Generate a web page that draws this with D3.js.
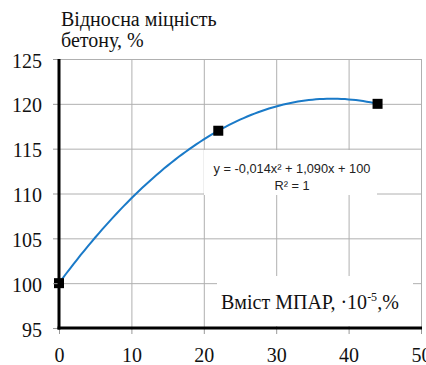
<!DOCTYPE html>
<html>
<head>
<meta charset="utf-8">
<script src="https://cdn.jsdelivr.net/npm/d3@7"></script>
<style>
  body { margin: 0; background: #fff; }
  svg { display: block; }
</style>
</head>
<body>
<svg id="chart" width="426" height="365"></svg>
<script>
// data points
let contentX = [0, 22, 44];
let strength = [100, 117, 120];

let xTicks = [0, 10, 20, 30, 40, 50];
let yTicks = [95, 100, 105, 110, 115, 120, 125];

let eqLine1 = "y = -0,014x² + 1,090x + 100";
let eqLine2 = "R² = 1";

const serif = "Liberation Serif";
const sans = "Liberation Sans";

const margin = { top: 59, bottom: 37, left: 59, right: 5 };
const width = 426;
const height = 365;

let svg = d3.select("svg#chart");

let plotWidth = width - margin.left - margin.right;
let plotHeight = height - margin.top - margin.bottom;

let xScale = d3.scaleLinear().domain([0, 50]).range([0, plotWidth]);
let yScale = d3.scaleLinear().domain([95, 125]).range([plotHeight, 0]);

const plot = svg.append("g").attr("transform", translate(margin.left, margin.top));

// grid
plot.append("g").selectAll("line")
  .data(yTicks.filter(d => d > 95))
  .join("line")
  .attr("x1", 0).attr("x2", plotWidth)
  .attr("y1", d => yScale(d) + 0.5).attr("y2", d => yScale(d) + 0.5)
  .attr("stroke", "#b0b0b0").attr("stroke-width", 1);

plot.append("g").selectAll("line")
  .data(xTicks.filter(d => d > 0))
  .join("line")
  .attr("x1", d => xScale(d) + 0.5).attr("x2", d => xScale(d) + 0.5)
  .attr("y1", 0).attr("y2", plotHeight)
  .attr("stroke", "#b0b0b0").attr("stroke-width", 1);

// quadratic trendline fitted through the points (exact for three points)
function quadFit(xs, ys) {
  let [x0, x1, x2] = xs, [y0, y1, y2] = ys;
  let d1 = (y1 - y0) / (x1 - x0);
  let d2 = (y2 - y1) / (x2 - x1);
  let a = (d2 - d1) / (x2 - x0);
  let b = d1 - a * (x0 + x1);
  let c = y0 - a * x0 * x0 - b * x0;
  return x => a * x * x + b * x + c;
}
let fit = quadFit(contentX, strength);
let curveX = d3.range(0, 44.01, 0.5);

plot.append("path")
  .datum(curveX)
  .attr("fill", "none")
  .attr("stroke", "#1a7ac8")
  .attr("stroke-width", 2)
  .attr("d", d3.line().x(d => xScale(d)).y(d => yScale(fit(d))));

// equation box
plot.append("rect")
  .attr("x", 145).attr("y", 91).attr("width", 173).attr("height", 45)
  .attr("fill", "#fff");
plot.append("text")
  .attr("font-family", sans).attr("font-size", "12.8px").attr("fill", "#222")
  .attr("x", 233).attr("y", 114).attr("text-anchor", "middle")
  .text(eqLine1);
plot.append("text")
  .attr("font-family", sans).attr("font-size", "12.8px").attr("fill", "#222")
  .attr("x", 233).attr("y", 131).attr("text-anchor", "middle")
  .text(eqLine2);

// x axis title box
plot.append("rect")
  .attr("x", 158).attr("y", 217).attr("width", 196).attr("height", 50)
  .attr("fill", "#fff");
let xt = plot.append("text")
  .attr("font-family", serif).attr("font-size", "20px").attr("fill", "#111")
  .attr("x", 162).attr("y", 250);
xt.append("tspan").text("Вміст МПАР, ·10");
xt.append("tspan").attr("font-size", "12px").attr("dy", -8).text("-5");
xt.append("tspan").attr("dy", 8).text(",%");

// markers
plot.append("g").selectAll("rect")
  .data(contentX.map((d, i) => [d, strength[i]]))
  .join("rect")
  .attr("x", d => xScale(d[0]) - 5)
  .attr("y", d => yScale(d[1]) - 5)
  .attr("width", 10).attr("height", 10)
  .attr("fill", "#000");

// axes
let yAxis = d3.axisLeft(yScale).tickValues(yTicks).tickSize(6).tickPadding(11);
let yGroup = plot.append("g").call(yAxis)
  .attr("font-family", serif).attr("font-size", 20);
yGroup.select(".domain").remove();
yGroup.selectAll(".tick line").attr("stroke", "#999");
yGroup.selectAll(".tick text").attr("fill", "#111").attr("dy", "0.4em");

let xAxis = d3.axisBottom(xScale).tickValues(xTicks).tickSize(6).tickPadding(14);
let xGroup = plot.append("g").attr("transform", translate(0, plotHeight)).call(xAxis)
  .attr("font-family", serif).attr("font-size", 20);
xGroup.select(".domain").remove();
xGroup.selectAll(".tick line").attr("stroke", "#999");
xGroup.selectAll(".tick text").attr("fill", "#111");

plot.append("line")
  .attr("x1", 0).attr("x2", 0).attr("y1", 0).attr("y2", plotHeight + 1.5)
  .attr("stroke", "#000").attr("stroke-width", 3);
plot.append("line")
  .attr("x1", -1.5).attr("x2", plotWidth + 1).attr("y1", plotHeight).attr("y2", plotHeight)
  .attr("stroke", "#000").attr("stroke-width", 3);

// y title
svg.append("text").attr("font-family", serif).attr("font-size", "20px").attr("fill", "#111")
  .attr("x", 61).attr("y", 26).text("Відносна міцність");
svg.append("text").attr("font-family", serif).attr("font-size", "20px").attr("fill", "#111")
  .attr("x", 61).attr("y", 47).text("бетону, %");

function translate(x, y) {
  return 'translate(' + String(x) + ',' + String(y) + ')';
}
</script>
</body>
</html>
